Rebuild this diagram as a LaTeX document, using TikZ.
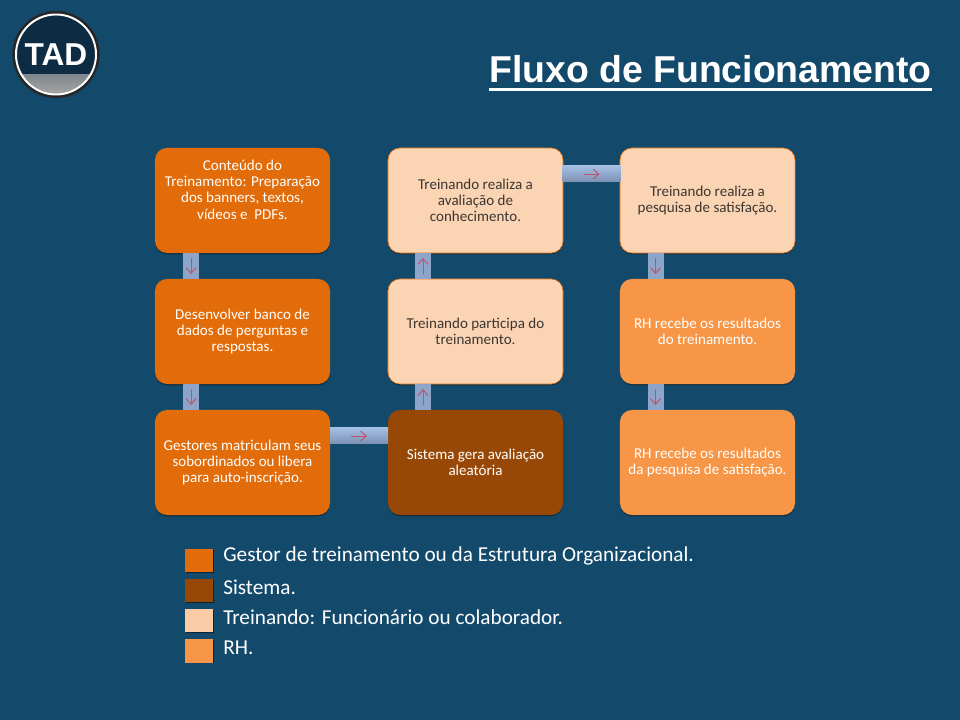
\documentclass[tikz,border=0pt]{standalone}
\usepackage{fontspec}
\setmainfont{Carlito}
\newfontfamily\titlefont{Liberation Sans}
\usetikzlibrary{shadows,decorations.markings,arrows.meta}
\definecolor{pagebg}{HTML}{134A6C}
\definecolor{gestor}{HTML}{E36C0A}
\definecolor{sistema}{HTML}{974806}
\definecolor{treinando}{HTML}{FBD4B4}
\definecolor{rh}{HTML}{F79646}
\definecolor{barcolor}{HTML}{8DA5CA}
\definecolor{barlight}{HTML}{A3BFE4}
\definecolor{bardark}{HTML}{7C90B2}
\definecolor{arrowred}{HTML}{C4506A}
\definecolor{logodark}{HTML}{0E2B44}
\definecolor{darktext}{HTML}{3C3632}
\begin{document}
\begin{tikzpicture}[x=0.025cm, y=-0.025cm,
    flowbox/.style={rectangle, rounded corners=0.3cm, inner sep=0pt, outer sep=0pt,
      minimum width=4.375cm, minimum height=2.625cm, align=center,
      font=\fontsize{10.7}{11.6}\selectfont,
      drop shadow={shadow xshift=0pt, shadow yshift=-0.9pt, opacity=0.4, fill=black}},
    gestorbox/.style={flowbox, fill=gestor, text=white},
    sistemabox/.style={flowbox, fill=sistema, text=white},
    treinandobox/.style={flowbox, fill=treinando, draw=gestor, line width=0.4pt, text=darktext},
    rhbox/.style={flowbox, fill=rh, text=white},
    flowarrow/.style={arrowred, line width=0.7pt, -{Straight Barb[length=4pt,width=7pt]}},
    flowbar/.style={draw=barcolor, line width=0.4cm, postaction={decorate},
      decoration={markings, mark=at position 0.5 with {\draw[flowarrow] (-8,0) -- (8,0);}}},
    flowbarh/.style={draw=barcolor, line width=0.4cm, postaction={decorate},
      decoration={markings, mark=at position 0.5 with {
        \shade[top color=barlight, bottom color=bardark] (-29,-8) rectangle (29,8);
        \draw[flowarrow] (-8,0) -- (8,0);}}},
    swatch/.style={rectangle, inner sep=0pt, outer sep=0pt, minimum width=0.7cm, minimum height=0.575cm,
      drop shadow={shadow xshift=0.4pt, shadow yshift=-0.6pt, opacity=0.5, fill=black}},
    legendtext/.style={anchor=west, inner sep=0pt, text=white, font=\fontsize{15.1}{17}\selectfont}]
  \useasboundingbox (0,0) rectangle (960,720);
  \fill[pagebg] (0,0) rectangle (960,720);

  % logo
  \fill[black!85] (56,54.5) circle (1.09cm);
  \node[circle, draw=white, line width=1.4pt, fill=logodark, minimum size=2.0cm, inner sep=0pt, text=white,
    font=\titlefont\bfseries\fontsize{22.5}{24}\selectfont,
    path picture={\shade[top color=logodark, bottom color=gray!70]
      ([xshift=-1.2cm]path picture bounding box.south) rectangle ([xshift=1.2cm,yshift=0.5cm]path picture bounding box.south);}]
    (tad) at (56,54.5) {TAD};

  % title
  \node[text=white, inner sep=0pt, font=\titlefont\bfseries\fontsize{26.6}{30}\selectfont] (title) at (710.5,69) {Fluxo de Funcionamento};
  \draw[white, line width=2pt] (489,89.5) -- (932,89.5);

  % boxes
  \node[gestorbox] (conteudo) at (242.5,200.5) {Conteúdo do\\Treinamento: Preparação\\dos banners, textos,\\vídeos e~ PDFs.\\[4.3pt] \mbox{}};
  \node[gestorbox] (banco) at (242.5,331.5) {Desenvolver banco de\\dados de perguntas e\\respostas.};
  \node[gestorbox] (gestores) at (242.5,462.5) {Gestores matriculam seus\\sobordinados ou libera\\para auto-inscrição.};
  \node[sistemabox] (aleatoria) at (475.5,462.5) {Sistema gera avaliação\\aleatória};
  \node[treinandobox] (participa) at (475.5,331.5) {Treinando participa do\\treinamento.};
  \node[treinandobox] (avaliacao) at (475.5,200.5) {Treinando realiza a\\avaliação de\\conhecimento.};
  \node[treinandobox] (pesquisa) at (707.5,200.5) {Treinando realiza a\\pesquisa de satisfação.};
  \node[rhbox] (resultados) at (707.5,331.5) {RH recebe os resultados\\do treinamento.};
  \node[rhbox] (satisfacao) at (707.5,462.5) {RH recebe os resultados\\da pesquisa de satisfação.};

  % connectors
  \coordinate (barA) at (191,0);
  \coordinate (barB) at (423,0);
  \coordinate (barC) at (655.5,0);
  \coordinate (barT) at (0,174);
  \coordinate (barL) at (0,436);
  \draw[flowbar] (conteudo.south -| barA) -- (banco.north -| barA);
  \draw[flowbar] (banco.south -| barA) -- (gestores.north -| barA);
  \draw[flowbarh] (gestores.east |- barL) -- (aleatoria.west |- barL);
  \draw[flowbar] (aleatoria.north -| barB) -- (participa.south -| barB);
  \draw[flowbar] (participa.north -| barB) -- (avaliacao.south -| barB);
  \draw[flowbarh] (avaliacao.east |- barT) -- (pesquisa.west |- barT);
  \draw[flowbar] (pesquisa.south -| barC) -- (resultados.north -| barC);
  \draw[flowbar] (resultados.south -| barC) -- (satisfacao.north -| barC);

  % legend
  \node[swatch, fill=gestor] (swgestor) at (199,560.5) {};
  \node[swatch, fill=sistema] (swsistema) at (199,590.5) {};
  \node[swatch, fill=treinando!85!rh] (swtreinando) at (199,620.5) {};
  \node[swatch, fill=rh] (swrh) at (199,651) {};
  \node[legendtext] (lgestor) at (223,556) {Gestor de treinamento ou da Estrutura Organizacional.};
  \node[legendtext] (lsistema) at (223,587) {Sistema.};
  \node[legendtext] (ltreinando) at (223,617) {Treinando: Funcionário ou colaborador.};
  \node[legendtext] (lrh) at (223,648) {RH.};
\end{tikzpicture}
\end{document}
